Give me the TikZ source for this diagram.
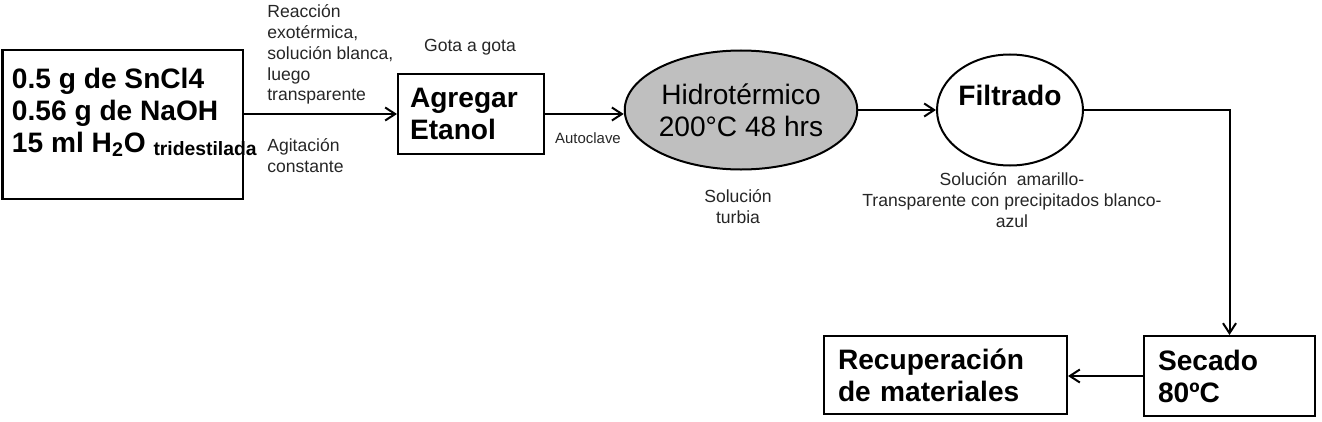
\documentclass[tikz,border=0pt]{standalone}
\usepackage{fontspec}
\setmainfont{Liberation Sans}
\usetikzlibrary{arrows.meta, shapes.geometric, positioning}
\tikzset{
  stage/.style = {
    draw, rectangle, line width=0.4mm, align=left,
    font=\bfseries\fontsize{16}{18.2}\selectfont
  },
  oval/.style = {
    draw, ellipse, line width=0.4mm, align=center, inner sep=0pt,
    font=\fontsize{16}{18.2}\selectfont
  },
  note/.style = {
    inner sep=0pt, align=left, text=black!85,
    font=\fontsize{10}{11.9}\selectfont
  },
  flow/.style = {
    line width=0.4mm, -{Straight Barb[length=2mm, width=2.6mm]}
  }
}

\begin{document}
\begin{tikzpicture}[x=0.2mm, y=-0.2mm]
  \useasboundingbox (0,0) rectangle (1322,422);

  % Starting mixture
  \node[stage, anchor=north west, inner xsep=1.9mm, inner ysep=3.6mm] (mix) at (1.5,49)
    {\parbox[c][22.6mm][t]{44.3mm}{0.5 g de SnCl4\\0.56 g de NaOH\\
      \mbox{15 ml H\textsubscript{2}O \raisebox{-2pt}{\fontsize{11}{12}\selectfont tridestilada}}}};

  % Ethanol
  \node[stage, anchor=north west, inner xsep=2.4mm, text width=24.4mm, minimum height=16mm] (agr) at (397,73)
    {Agregar\\Etanol};

  % Hydrothermal step
  \node[oval, fill=black!25, minimum width=43.4mm, minimum height=23.8mm] (hidro) at (741,110)
    {Hidrotérmico\\200°C 48 hrs};

  % Filtering
  \node[oval, font=\bfseries\fontsize{16}{18.2}\selectfont, text depth=6mm,
    minimum width=29.2mm, minimum height=22.2mm] (filt) at (1010,110) {Filtrado};

  % Drying and recovery
  \node[stage, anchor=north west, inner xsep=2.8mm, text width=28.6mm, minimum height=16mm] (sec) at (1143,335)
    {Secado\\80ºC};
  \node[stage, anchor=north west, inner xsep=2.8mm, text width=43mm, minimum height=15.6mm] (rec) at (823,335)
    {Recuperación\\de materiales};

  % Notes
  \node[note, anchor=north west] (reac) at (267,4)
    {Reacción\\exotérmica,\\solución blanca,\\luego\\transparente};
  \node[note, anchor=north west] (agit) at (267,138) {Agitación\\constante};
  \node[note] (gota) at (470,47) {Gota a gota};
  \node[note, font=\fontsize{8.5}{10}\selectfont] (auto) at (588,138) {Autoclave};
  \node[note, align=center, anchor=north] (turb) at (738,189) {Solución\\turbia};
  \node[note, align=center, anchor=north] (amar) at (1012,172)
    {Solución\ \ amarillo-\\Transparente con precipitados blanco-\\azul};

  % Arrows
  \draw[flow] (mix.east |- agr.west) -- (agr.west);
  \draw[flow] (agr.east) -- (agr.east -| hidro.west);
  \draw[flow] (hidro) -- (filt);
  \draw[flow] (filt.east) -| (sec.north);
  \draw[flow] (sec.west) -- (sec.west -| rec.east);

\end{tikzpicture}
\end{document}
